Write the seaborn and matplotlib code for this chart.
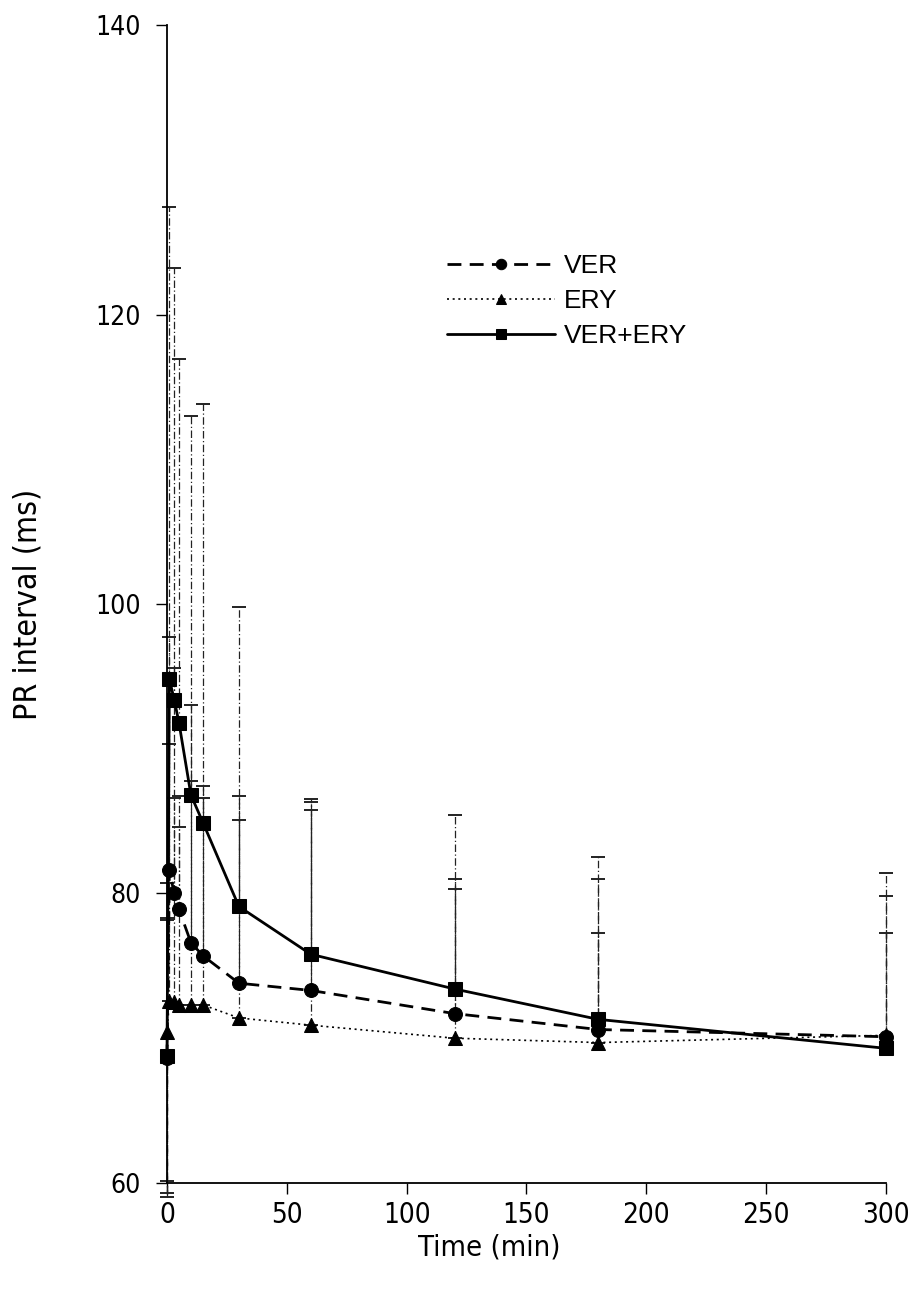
import numpy as np
import pandas as pd
import matplotlib
matplotlib.use("Agg")
import matplotlib.pyplot as plt
import seaborn as sns
from matplotlib import font_manager

# ---- data ----
times = [0, 1, 3, 5, 10, 15, 30, 60, 120, 180, 300]
ver_mean = [68.6, 81.6, 80.0, 78.9, 76.6, 75.7, 73.8, 73.3, 71.7, 70.6, 70.1]
ery_mean = [70.4, 72.6, 72.5, 72.3, 72.3, 72.3, 71.4, 70.9, 70.0, 69.7, 70.2]
combo_mean = [68.8, 94.8, 93.4, 91.8, 86.8, 84.9, 79.1, 75.8, 73.4, 71.3, 69.3]
ver_sd = [9.6, 16.1, 15.6, 7.8, 16.4, 11.7, 12.9, 13.0, 9.3, 10.4, 9.7]
ery_sd = [10.3, 17.7, 14.1, 12.3, 15.5, 14.3, 13.7, 14.9, 10.3, 7.6, 7.1]
combo_sd = [9.5, 32.6, 29.8, 25.1, 26.2, 28.9, 20.7, 10.7, 12.0, 11.2, 12.1]
series_names = ["VER", "ERY", "VER+ERY"]
x_ticks = [0, 50, 100, 150, 200, 250, 300]
y_ticks = [60, 80, 100, 120, 140]

names = {f.name for f in font_manager.fontManager.ttflist}
if "Liberation Sans Narrow" in names:
    narrow = dict(family="Liberation Sans Narrow")
else:
    narrow = dict(family="DejaVu Sans", stretch="condensed")
regular = "Liberation Sans" if "Liberation Sans" in names else "DejaVu Sans"

sns.set_theme(style="ticks")
plt.rcParams["font.family"] = [regular, "DejaVu Sans"]

fig = plt.figure(figsize=(9.17, 12.91), dpi=100)
ax = fig.add_axes([0.1821, 0.0837, 0.7841, 0.8969])

means = [ver_mean, ery_mean, combo_mean]
sds = [ver_sd, ery_sd, combo_sd]
styles = [
    dict(marker="o", linestyle=(0, (5, 3)), lw=2.0, ms=10),
    dict(marker="^", linestyle=(0, (1.2, 2.2)), lw=1.2, ms=10.5),
    dict(marker="s", linestyle="-", lw=2.0, ms=9.5),
]

# error bars (upper only, baseline symmetric)
for m, s in zip(means, sds):
    lower = [s[0]] + [0] * (len(s) - 1)
    eb = ax.errorbar(times, m, yerr=[lower, s], fmt="none", ecolor="#222222",
                     elinewidth=0.9, capsize=5, capthick=1.4, zorder=1)
    for c in eb[1]:
        c.set_clip_on(False)
    for lc in eb[2]:
        lc.set_linestyle((0, (6, 2, 1, 2)))
        lc.set_clip_on(False)

df = pd.DataFrame({
    "time": times * 3,
    "pr": ver_mean + ery_mean + combo_mean,
    "series": sum([[n] * len(times) for n in series_names], []),
})
for name, st in zip(series_names, styles):
    sub = df[df.series == name]
    sns.lineplot(data=sub, x="time", y="pr", ax=ax, color="black",
                 marker=st["marker"], linestyle=st["linestyle"], lw=st["lw"],
                 markersize=st["ms"], markeredgecolor="black", label=name,
                 sort=False, zorder=3, clip_on=False)

ax.set_xlim(0, 300)
ax.set_ylim(60, 140)
ax.set_xticks(x_ticks)
ax.set_yticks(y_ticks)
sns.despine(ax=ax)
for sp in ["left", "bottom"]:
    ax.spines[sp].set_linewidth(1.3)
    ax.spines[sp].set_color("black")
ax.tick_params(axis="both", direction="out", length=8, width=1.0, color="black")
ax.tick_params(axis="y", labelsize=19, pad=11)
ax.tick_params(axis="x", labelsize=20, pad=5)
for lab in ax.get_xticklabels() + ax.get_yticklabels():
    lab.set_fontfamily(narrow["family"])
    if "stretch" in narrow:
        lab.set_fontstretch(narrow["stretch"])
    lab.set_color("black")

ax.set_xlabel("Time (min)", fontsize=21, color="black", **narrow)
ax.set_ylabel("PR interval (ms)", fontsize=23, color="black", **narrow)
ax.xaxis.set_label_coords(0.448, -0.044)
ax.yaxis.set_label_coords(-0.172, 0.5)

leg = ax.legend(loc="upper left", bbox_to_anchor=(0.389, 0.802), frameon=False,
                fontsize=19, handlelength=4.1, handletextpad=0.35,
                labelspacing=0.41, markerscale=0.75, borderaxespad=0,
                borderpad=0)
for t in leg.get_texts():
    t.set_color("black")

fig.savefig("out.png", dpi=100)
